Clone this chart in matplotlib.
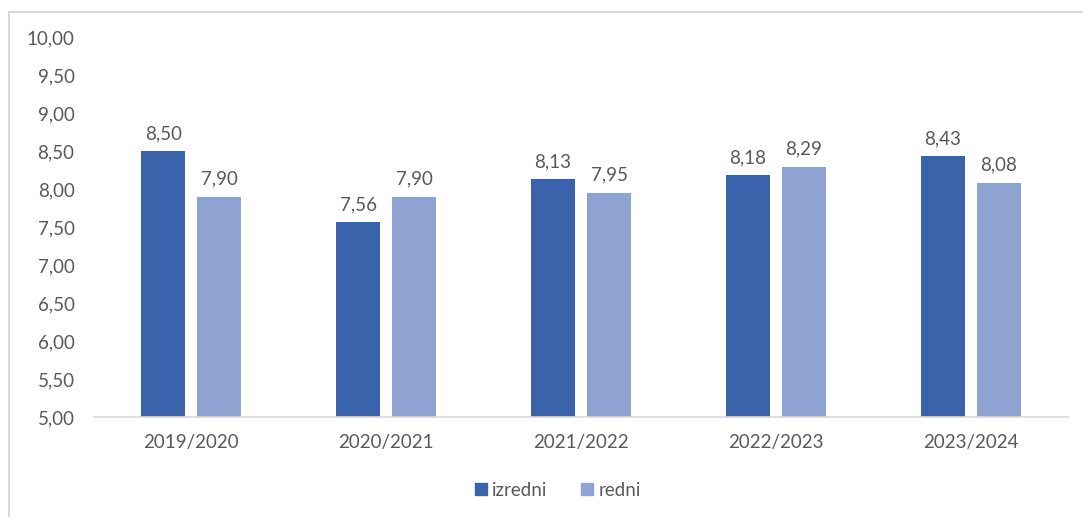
import matplotlib
matplotlib.use("Agg")
import matplotlib.pyplot as plt
from matplotlib.lines import Line2D
from matplotlib.patches import Patch
import numpy as np

categories = ["2019/2020", "2020/2021", "2021/2022", "2022/2023", "2023/2024"]
izredni = [8.50, 7.56, 8.13, 8.18, 8.43]
redni = [7.90, 7.90, 7.95, 8.29, 8.08]
series_names = ["izredni", "redni"]
yticks = [5.0, 5.5, 6.0, 6.5, 7.0, 7.5, 8.0, 8.5, 9.0, 9.5, 10.0]

dark = "#3A63AB"
light = "#8FA3D3"
text_col = "#595959"

plt.rcParams['font.family'] = ['Lato', 'DejaVu Sans']
FS = 13.5

W, H = 1083, 517
fig = plt.figure(figsize=(W / 100, H / 100), dpi=100)

# plot area in pixel coordinates
x0, x1 = 94, 1068
ytop, ybot = 37, 417
ax = fig.add_axes([x0 / W, 1 - ybot / H, (x1 - x0) / W, (ybot - ytop) / H])

x = np.arange(len(categories))
bw = 0.226
gap = 0.062
off = (bw + gap) / 2
ax.bar(x - off, izredni, bw, color=dark, zorder=2)
ax.bar(x + off, redni, bw, color=light, zorder=2)

fmt = lambda v: f"{v:.2f}".replace(".", ",")
for xi, v in zip(x - off, izredni):
    ax.text(xi, v + 0.12, fmt(v), ha="center", va="bottom", fontsize=FS, color=text_col)
for xi, v in zip(x + off, redni):
    ax.text(xi, v + 0.12, fmt(v), ha="center", va="bottom", fontsize=FS, color=text_col)

ax.set_xlim(-0.5, len(categories) - 0.5)
ax.set_ylim(5, 10)
ax.set_yticks(yticks)
ax.set_yticklabels([fmt(t) for t in yticks], fontsize=FS, color=text_col)
ax.set_xticks(x)
ax.set_xticklabels(categories, fontsize=FS, color=text_col)
ax.tick_params(axis="both", length=0)
ax.tick_params(axis="y", pad=14)
ax.tick_params(axis="x", pad=12)
for s in ["top", "right", "left"]:
    ax.spines[s].set_visible(False)
ax.spines["bottom"].set_color("#D9D9D9")
ax.spines["bottom"].set_linewidth(1.2)
ax.spines["bottom"].set_zorder(3)

handles = [Patch(color=dark), Patch(color=light)]
fig.legend(handles, series_names, loc="center", bbox_to_anchor=(558 / W, 1 - 490 / H),
           ncol=2, frameon=False, fontsize=FS, handlelength=0.6, handleheight=0.6,
           handletextpad=0.3, columnspacing=1.8, labelcolor=text_col)

# outer frame (top and left visible)
fig.add_artist(Line2D([8.5 / W, 1.0], [1 - 11.5 / H, 1 - 11.5 / H], transform=fig.transFigure,
                      color="#D9D9D9", lw=1.5))
fig.add_artist(Line2D([8.5 / W, 8.5 / W], [0.0, 1 - 11.5 / H], transform=fig.transFigure,
                      color="#D9D9D9", lw=1.5))

fig.savefig("out.png", dpi=100)
